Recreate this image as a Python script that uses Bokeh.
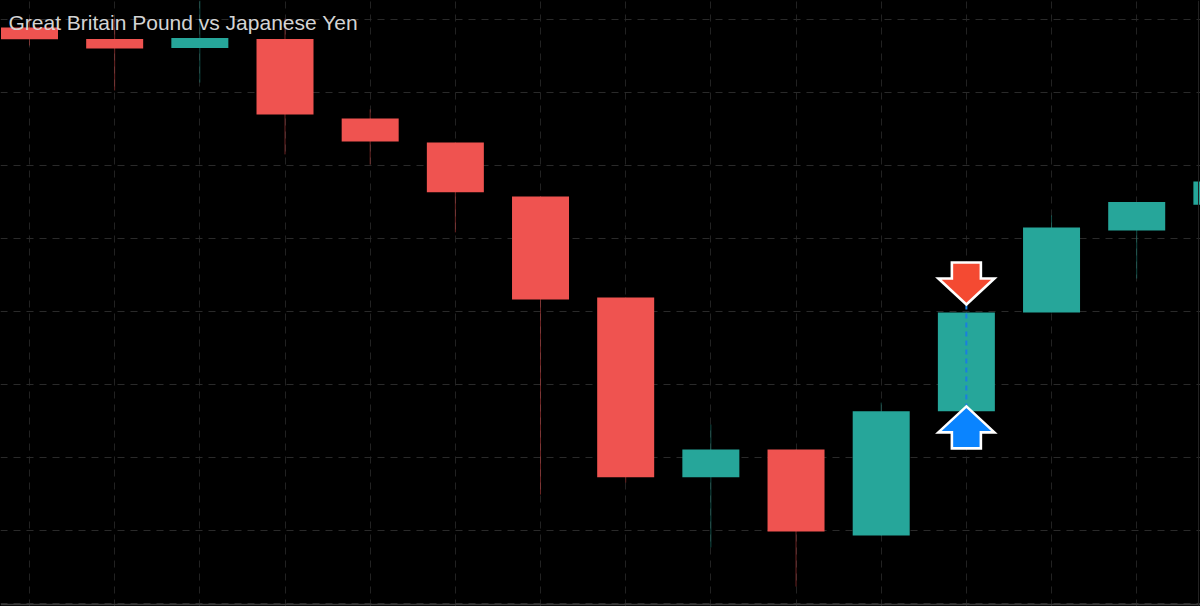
from bokeh.plotting import figure
from bokeh.embed import file_html
from bokeh.resources import INLINE
from bokeh.models import FixedTicker, Label, Span, GlobalInlineStyleSheet, Range1d

TITLE = "Great Britain Pound vs Japanese Yen"

# Session index and OHLC prices (grid step = 0.25)
session = list(range(15))
open_  = [141.473, 141.433, 141.402, 141.433, 141.161, 141.079, 140.894, 140.548, 139.932, 140.027, 139.733, 140.158, 140.497, 140.777, 140.866]
close_ = [141.432, 141.401, 141.437, 141.175, 141.082, 140.908, 140.541, 139.932, 140.027, 139.747, 140.158, 140.497, 140.788, 140.875, 140.945]
high   = [141.503, 141.503, 141.565, 141.503, 141.192, 141.079, 140.894, 140.548, 140.113, 140.027, 140.188, 140.497, 140.829, 140.875, 140.945]
low    = [141.411, 141.257, 141.284, 141.038, 141.003, 140.771, 139.873, 139.914, 139.692, 139.558, 139.733, 140.158, 140.497, 140.613, 140.866]

signal_x = 11
sell_price = 140.524
buy_price = 140.175

price_ticks = [138.50, 138.75, 139.00, 139.25, 139.50, 139.75, 140.00, 140.25, 140.50, 140.75, 141.00, 141.25, 141.50]
session_ticks = list(range(-1, 16))

RED, TEAL = "#ef5350", "#26a69a"
W, H = 1200, 606
PX_PER_BAR = 85.17
PX_PER_PRICE = 73 / 0.25
X0 = 29.0
Y_REF = 457.0  # pixel row of price 140.00

x_start = -X0 / PX_PER_BAR
x_end = (W - X0) / PX_PER_BAR
y_top = 140.0 + Y_REF / PX_PER_PRICE
y_bot = 140.0 - (H - Y_REF) / PX_PER_PRICE

p = figure(width=W, height=H, output_backend="svg", toolbar_location=None,
           x_range=Range1d(x_start, x_end), y_range=Range1d(y_bot, y_top),
           background_fill_color="#000000", border_fill_color="#000000",
           min_border=0, min_border_left=0, min_border_right=0, min_border_top=0, min_border_bottom=0,
           outline_line_color=None, tools="")
p.stylesheets = [GlobalInlineStyleSheet(css="html,body{margin:0;padding:0;background:#000;overflow:hidden}")]

p.xaxis.visible = False
p.yaxis.visible = False
p.xgrid[0].ticker = FixedTicker(ticks=session_ticks)
p.ygrid[0].ticker = FixedTicker(ticks=price_ticks)
p.xgrid[0].grid_line_color = "#222222"
p.ygrid[0].grid_line_color = "#2a2a2a"
for g in (p.xgrid[0], p.ygrid[0]):
    g.grid_line_dash = "7 6"
    g.grid_line_width = 1

# baseline at the bottom and on the right edge
p.add_layout(Span(location=y_bot + 2 / PX_PER_PRICE, dimension="width", line_color="#3a3a3a", line_width=1.5))
p.add_layout(Span(location=x_end - 2 / PX_PER_BAR, dimension="height", line_color="#222222", line_width=1))

colors = [RED if c < o else TEAL for o, c in zip(open_, close_)]
p.segment(session, high, session, low, color=colors, line_width=1, line_alpha=0.45)
tops = [max(o, c) for o, c in zip(open_, close_)]
bots = [min(o, c) for o, c in zip(open_, close_)]
p.vbar(session, width=57 / PX_PER_BAR, top=tops, bottom=bots, fill_color=colors, line_color=None)

# dashed connector between the signals
p.segment([signal_x], [sell_price], [signal_x], [buy_price], line_color="#1a7fe0", line_width=2, line_dash="5 4")


def arrow(tip_price, direction):
    """direction=+1: arrow points down (tip at the bottom); -1 points up. Shape sizes in pixels."""
    dx = [0, 28.0, 14.5, 14.5, -14.5, -14.5, -28.0]
    dy = [0, 26, 26, 42, 42, 26, 26]
    xs = [signal_x + d / PX_PER_BAR for d in dx]
    ys = [tip_price + direction * d / PX_PER_PRICE for d in dy]
    return xs, ys


for price, direction, col in ((sell_price, 1, "#f44a32"), (buy_price, -1, "#0a84ff")):
    xs, ys = arrow(price, direction)
    p.patch(xs, ys, fill_color=col, line_color="#ffffff", line_width=2.6, line_join="miter")

p.add_layout(Label(x=8, y=H - 22, x_units="screen", y_units="screen", text=TITLE,
                   text_color="#d4d4d4", text_font="Liberation Sans", text_font_size="21px",
                   text_baseline="alphabetic"))

open("out.html", "w").write(file_html(p, INLINE))
